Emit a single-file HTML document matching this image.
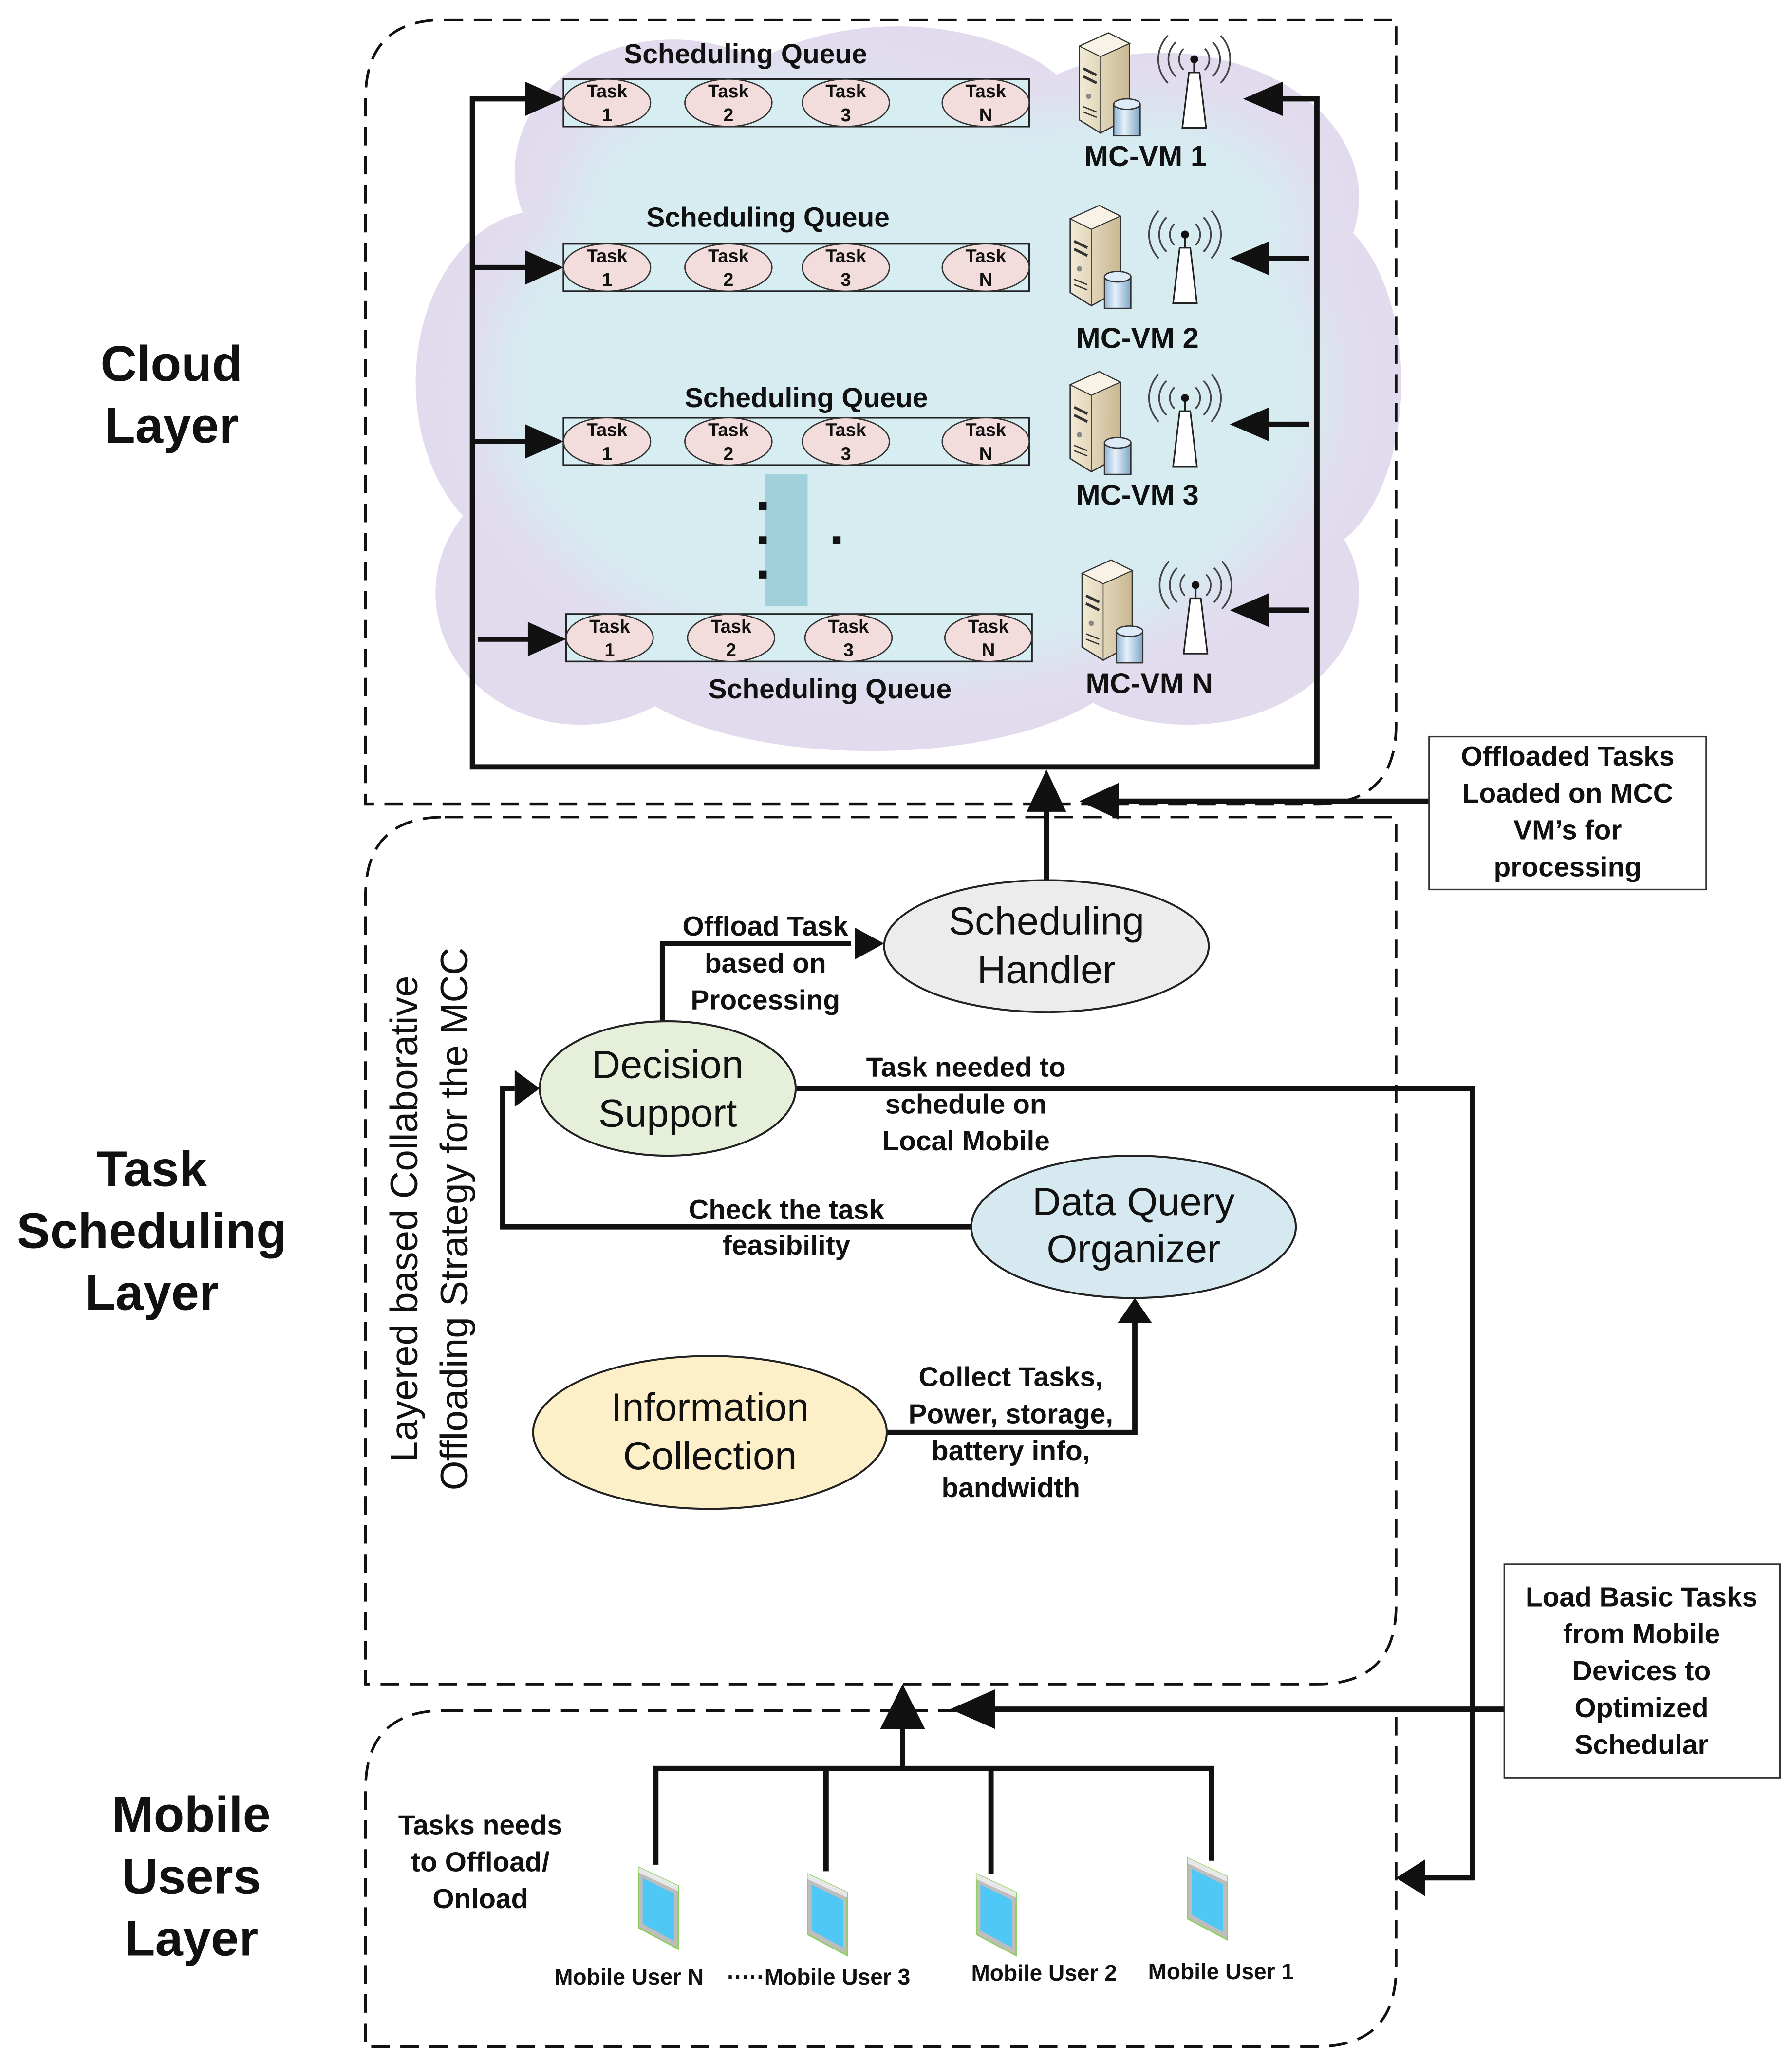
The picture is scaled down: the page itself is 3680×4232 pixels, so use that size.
<!DOCTYPE html>
<html><head><meta charset="utf-8">
<style>html,body{margin:0;padding:0;background:#fff}svg{display:block}</style></head>
<body>
<svg width="3680" height="4232" viewBox="0 0 1358 1564" preserveAspectRatio="none" xmlns="http://www.w3.org/2000/svg" font-family="Liberation Sans, sans-serif">
<defs>
<linearGradient id="sv" x1="0" x2="1"><stop offset="0" stop-color="#f3ebd6"/><stop offset="1" stop-color="#c9b892"/></linearGradient>
<linearGradient id="cy" x1="0" x2="1"><stop offset="0" stop-color="#8fb4d4"/><stop offset="0.4" stop-color="#e6f1fa"/><stop offset="1" stop-color="#7ea6c8"/></linearGradient>
<filter id="bl" x="-20%" y="-20%" width="140%" height="140%"><feGaussianBlur stdDeviation="18"/></filter>
<g id="server">
<polygon points="0,10 22,0 38,8 38,64 16,76 0,66" fill="url(#sv)" stroke="#333" stroke-width="1"/>
<polygon points="0,10 22,0 38,8 16,18" fill="#f8f3e6" stroke="#333" stroke-width="0.8"/>
<line x1="16" y1="18" x2="16" y2="76" stroke="#333" stroke-width="0.6"/>
<line x1="3" y1="27" x2="13" y2="32" stroke="#333" stroke-width="2"/>
<line x1="3" y1="33" x2="13" y2="38" stroke="#333" stroke-width="2"/>
<circle cx="7" cy="48" r="2" fill="#888"/>
<line x1="3" y1="56" x2="13" y2="60" stroke="#333"/><line x1="3" y1="60" x2="13" y2="64" stroke="#333"/>
<rect x="26" y="54" width="20" height="24" fill="url(#cy)" stroke="#333"/>
<ellipse cx="36" cy="54" rx="10" ry="4" fill="#dcebf7" stroke="#333"/>
</g>
<g id="ant">
<polygon points="-4,10 4,10 9,52 -9,52" fill="#fff" stroke="#222" stroke-width="1.2"/>
<line x1="0" y1="2" x2="0" y2="10" stroke="#222" stroke-width="1.5"/>
<circle cx="0" cy="0" r="3" fill="#111"/>
<path d="M-8,-8 a11,11 0 0 0 0,16 M8,-8 a11,11 0 0 1 0,16 M-14,-13 a18,18 0 0 0 0,26 M14,-13 a18,18 0 0 1 0,26 M-20,-18 a26,26 0 0 0 0,36 M20,-18 a26,26 0 0 1 0,36" fill="none" stroke="#444" stroke-width="1.3"/>
</g>
<g id="phone">
<polygon points="0,0 30,14 30,62 0,46" fill="#bdbdbd" stroke="#8cd05a" stroke-width="1"/>
<polygon points="3,8 27,20 27,56 3,43" fill="#4fc8f5"/>
<polygon points="0,0 30,14 30,18 0,4" fill="#e8e8e8"/>
</g>
<g id="q">
<rect x="0" y="0" width="353" height="36" fill="#d6edf2" stroke="#222" stroke-width="1.3"/>
<ellipse cx="33" cy="18" rx="33" ry="18" fill="#f2dcdc" stroke="#333"/>
<ellipse cx="125" cy="18" rx="33" ry="18" fill="#f2dcdc" stroke="#333"/>
<ellipse cx="214" cy="18" rx="33" ry="18" fill="#f2dcdc" stroke="#333"/>
<ellipse cx="320" cy="18" rx="33" ry="18" fill="#f2dcdc" stroke="#333"/>
<g font-size="14" font-weight="bold" text-anchor="middle" fill="#111">
<text x="33" y="14">Task</text><text x="33" y="32">1</text>
<text x="125" y="14">Task</text><text x="125" y="32">2</text>
<text x="214" y="14">Task</text><text x="214" y="32">3</text>
<text x="320" y="14">Task</text><text x="320" y="32">N</text></g>
</g>
</defs>

<!-- cloud -->
<g fill="#e2dbee">
<ellipse cx="510" cy="130" rx="120" ry="100"/>
<ellipse cx="680" cy="110" rx="150" ry="90"/>
<ellipse cx="880" cy="150" rx="150" ry="110"/>
<ellipse cx="410" cy="290" rx="95" ry="130"/>
<ellipse cx="990" cy="290" rx="72" ry="130"/>
<ellipse cx="440" cy="450" rx="110" ry="100"/>
<ellipse cx="660" cy="490" rx="200" ry="80"/>
<ellipse cx="900" cy="450" rx="130" ry="100"/>
<ellipse cx="690" cy="300" rx="330" ry="230"/>
</g>
<g fill="#d6ecf1" filter="url(#bl)">
<ellipse cx="690" cy="295" rx="320" ry="215"/>
<ellipse cx="600" cy="150" rx="170" ry="90"/>
<ellipse cx="850" cy="170" rx="140" ry="90"/>
</g>

<!-- dashed boxes -->
<g fill="none" stroke="#111" stroke-width="2" stroke-dasharray="14,8">
<path d="M337,15 H1058 V550 Q1058,610 998,610 H277 V75 Q277,15 337,15 Z"/>
<path d="M337,620 H1058 V1218 Q1058,1278 998,1278 H277 V680 Q277,620 337,620 Z"/>
<path d="M337,1298 H1058 V1493 Q1058,1553 998,1553 H277 V1358 Q277,1298 337,1298 Z"/>
</g>

<!-- queues -->
<use href="#q" x="427" y="60"/>
<use href="#q" x="427" y="185"/>
<use href="#q" x="427" y="317"/>
<use href="#q" x="429" y="466"/>
<g font-size="21" font-weight="bold" text-anchor="middle" fill="#111">
<text x="565" y="48">Scheduling Queue</text>
<text x="582" y="172">Scheduling Queue</text>
<text x="611" y="309">Scheduling Queue</text>
<text x="629" y="530">Scheduling Queue</text>
</g>
<rect x="580" y="360" width="32" height="100" fill="#9fd0dc"/>
<g fill="#111"><rect x="575" y="381" width="6" height="6"/><rect x="575" y="407" width="6" height="6"/><rect x="575" y="433" width="6" height="6"/><rect x="631" y="407" width="6" height="6"/></g>

<!-- servers -->
<use href="#server" x="818" y="25"/><use href="#ant" x="905" y="45"/>
<use href="#server" x="811" y="156"/><use href="#ant" x="898" y="178"/>
<use href="#server" x="811" y="282"/><use href="#ant" x="898" y="302"/>
<use href="#server" x="820" y="425"/><use href="#ant" x="906" y="444"/>
<g font-size="22" font-weight="bold" text-anchor="middle" fill="#111">
<text x="868" y="126">MC-VM 1</text><text x="862" y="264">MC-VM 2</text>
<text x="862" y="383">MC-VM 3</text><text x="871" y="526">MC-VM N</text>
</g>

<!-- connectors -->
<g stroke="#111" stroke-width="4" fill="none">
<path d="M400,75 H358 V582 H998 V75 H970"/>
<path d="M360,203 H400 M360,335 H400 M362,485 H402"/>
<path d="M992,196 H962 M992,322 H962 M992,463 H962"/>
<path d="M793,668 V612"/>
<path d="M1083,608 H845"/>
<path d="M502,776 V716 H645"/>
<path d="M604,826 H1116 V1425 H1078"/>
<path d="M736,931 H381 V826 H390"/>
<path d="M672,1087 H860 V1002"/>
<path d="M684,1342 V1310"/>
<path d="M1140,1297 H752"/>
<path d="M497,1415 V1342 H918 V1412 M626,1342 V1420 M751,1342 V1422"/>
</g>
<g fill="#111">
<polygon points="427,75 398,62 398,88"/>
<polygon points="427,203 398,190 398,216"/>
<polygon points="427,335 398,322 398,348"/>
<polygon points="429,485 400,472 400,498"/>
<polygon points="942,75 972,62 972,88"/>
<polygon points="932,196 962,183 962,209"/>
<polygon points="932,322 962,309 962,335"/>
<polygon points="932,463 962,450 962,476"/>
<polygon points="793,584 778,616 808,616"/>
<polygon points="818,608 848,594 848,622"/>
<polygon points="670,716 648,704 648,728"/>
<polygon points="1058,1425 1080,1411 1080,1439"/>
<polygon points="409,826 390,812 390,840"/>
<polygon points="860,985 847,1004 873,1004"/>
<polygon points="684,1278 667,1312 701,1312"/>
<polygon points="720,1297 754,1282 754,1312"/>
</g>

<!-- ellipses -->
<ellipse cx="793" cy="718" rx="123" ry="50" fill="#ececec" stroke="#222" stroke-width="1.5"/>
<ellipse cx="506" cy="826" rx="97" ry="51" fill="#e6efd9" stroke="#222" stroke-width="1.5"/>
<ellipse cx="859" cy="931" rx="123" ry="54" fill="#d6e9f0" stroke="#222" stroke-width="1.5"/>
<ellipse cx="538" cy="1087" rx="134" ry="58" fill="#fdf0c8" stroke="#222" stroke-width="1.5"/>
<g font-size="30" text-anchor="middle" fill="#111">
<text x="793" y="709">Scheduling</text><text x="793" y="746">Handler</text>
<text x="506" y="818">Decision</text><text x="506" y="855">Support</text>
<text x="859" y="922">Data Query</text><text x="859" y="958">Organizer</text>
<text x="538" y="1078">Information</text><text x="538" y="1115">Collection</text>
</g>

<g font-size="21" font-weight="bold" text-anchor="middle" fill="#111">
<text x="580" y="710">Offload Task</text><text x="580" y="738">based on</text><text x="580" y="766">Processing</text>
<text x="732" y="817">Task needed to</text><text x="732" y="845">schedule on</text><text x="732" y="873">Local Mobile</text>
<text x="596" y="925">Check the task</text><text x="596" y="952">feasibility</text>
<text x="766" y="1052">Collect Tasks,</text><text x="766" y="1080">Power, storage,</text><text x="766" y="1108">battery info,</text><text x="766" y="1136">bandwidth</text>
<text x="364" y="1392">Tasks needs</text><text x="364" y="1420">to Offload/</text><text x="364" y="1448">Onload</text>
</g>

<rect x="1083" y="559" width="210" height="116" fill="#fff" stroke="#333" stroke-width="1.2"/>
<rect x="1140" y="1187" width="209" height="162" fill="#fff" stroke="#333" stroke-width="1.2"/>
<g font-size="21" font-weight="bold" text-anchor="middle" fill="#111">
<text x="1188" y="581">Offloaded Tasks</text><text x="1188" y="609">Loaded on MCC</text><text x="1188" y="637">VM’s for</text><text x="1188" y="665">processing</text>
<text x="1244" y="1219">Load Basic Tasks</text><text x="1244" y="1247">from Mobile</text><text x="1244" y="1275">Devices to</text><text x="1244" y="1303">Optimized</text><text x="1244" y="1331">Schedular</text>
</g>

<g font-size="29" text-anchor="middle" fill="#111">
<text transform="translate(316,925) rotate(-90)">Layered based Collaborative</text>
<text transform="translate(354,925) rotate(-90)">Offloading Strategy for the MCC</text>
</g>

<g font-size="38" font-weight="bold" text-anchor="middle" fill="#111">
<text x="130" y="289">Cloud</text><text x="130" y="336">Layer</text>
<text x="115" y="900">Task</text><text x="115" y="947">Scheduling</text><text x="115" y="994">Layer</text>
<text x="145" y="1390">Mobile</text><text x="145" y="1437">Users</text><text x="145" y="1484">Layer</text>
</g>

<use href="#phone" x="484" y="1417"/>
<use href="#phone" x="612" y="1422"/>
<use href="#phone" x="740" y="1422"/>
<use href="#phone" x="900" y="1410"/>
<g font-size="17" font-weight="bold" fill="#111">
<text x="420" y="1506">Mobile User N</text>
<text x="551" y="1506">·····Mobile User 3</text>
<text x="736" y="1503">Mobile User 2</text>
<text x="870" y="1502">Mobile User 1</text>
</g>
</svg>
</body></html>
